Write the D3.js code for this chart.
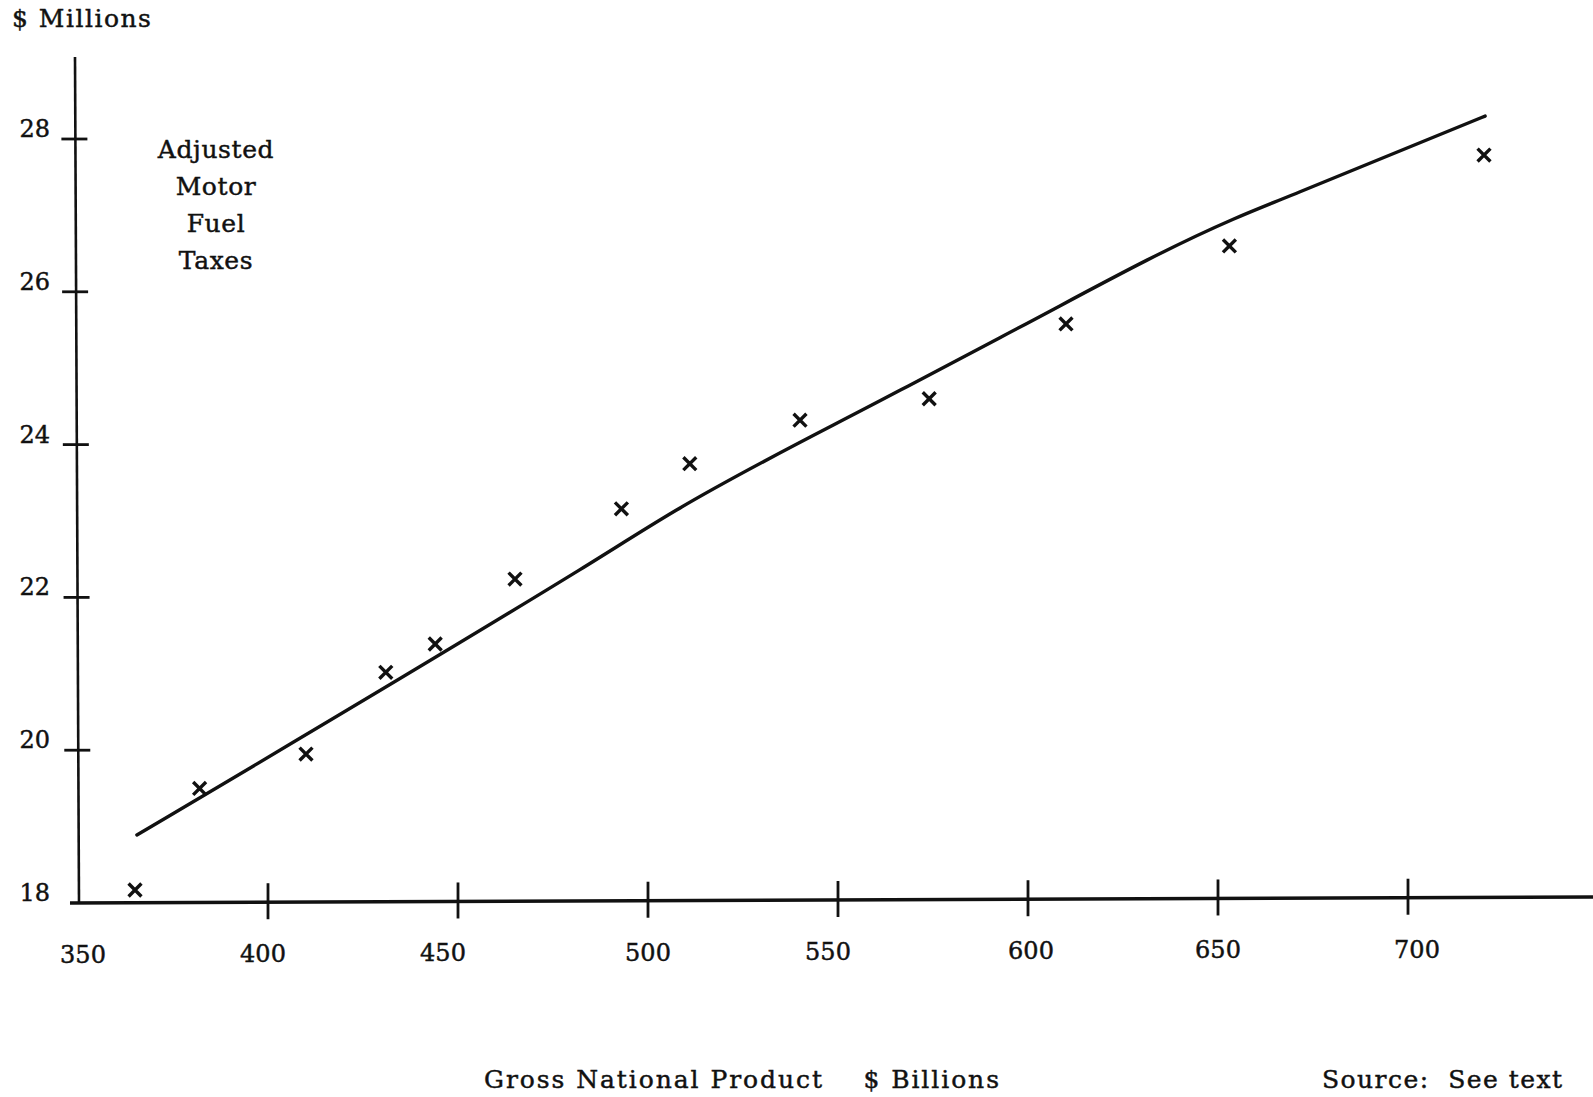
<!DOCTYPE html>
<html>
<head>
<meta charset="utf-8">
<script src="https://cdn.jsdelivr.net/npm/d3@7"></script>
<style>
  html, body { margin: 0; padding: 0; background: #fff; }
  svg { display: block; }
  text { font-family: "DejaVu Serif", "Liberation Serif", serif; fill: #111; stroke: #111; stroke-width: 0.45px; }
</style>
</head>
<body>
<svg id="chart" width="1593" height="1097"></svg>
<script>
// ---- data ----
const gnp = [365, 382, 410, 431, 444, 465, 493, 511, 540, 574, 610, 653, 720];
const fuelTax = [18.17, 19.5, 19.95, 21.02, 21.39, 22.24, 23.16, 23.75, 24.32, 24.6, 25.58, 26.6, 27.79];
const trendGnp = [365.5, 482, 507.4, 566.3, 592.6, 654, 671.6, 720.3];
const trendTax = [18.89, 22.36, 23.14, 24.71, 25.40, 26.95, 27.31, 28.30];
const xTicks = [350, 400, 450, 500, 550, 600, 650, 700];
const yTicks = [18, 20, 22, 24, 26, 28];
const yTitle = "$ Millions";
const seriesLabel = ["Adjusted", "Motor", "Fuel", "Taxes"];
const xTitle = "Gross National Product    $ Billions";
const sourceNote = "Source:  See text";

// ---- layout ----
const svg = d3.select("#chart");
const x = d3.scaleLinear().domain([350, 700]).range([78, 1408]);
const y = d3.scaleLinear().domain([18, 28]).range([903, 139]);
const ink = "#111";

// axes lines (slight scan tilt)
svg.append("line").attr("x1", x(350) - 3).attr("x2", x(350) + 1)
  .attr("y1", 57).attr("y2", y(18) + 1)
  .attr("stroke", ink).attr("stroke-width", 2.6);
svg.append("line").attr("x1", 70).attr("x2", 1593)
  .attr("y1", y(18)).attr("y2", y(18) - 6)
  .attr("stroke", ink).attr("stroke-width", 3.4);

// y ticks (crossing the axis)
const yAxisX = v => x(350) + 1 - 4 * (y(18) - y(v)) / (y(18) - 57);
svg.append("g").selectAll("line").data(yTicks.filter(v => v !== 18)).join("line")
  .attr("x1", d => yAxisX(d) - 14).attr("x2", d => yAxisX(d) + 12)
  .attr("y1", d => y(d)).attr("y2", d => y(d))
  .attr("stroke", ink).attr("stroke-width", 2.8);

// x ticks (crossing the axis)
const axisTilt = d => -6 * (x(d) - 70) / (1593 - 70);
svg.append("g").selectAll("line").data(xTicks.filter(v => v !== 350)).join("line")
  .attr("x1", d => x(d)).attr("x2", d => x(d))
  .attr("y1", d => y(18) + axisTilt(d) - 19).attr("y2", d => y(18) + axisTilt(d) + 17)
  .attr("stroke", ink).attr("stroke-width", 2.8);

// y tick labels
svg.append("g").selectAll("text").data(yTicks).join("text")
  .attr("x", 50).attr("y", d => y(d) - 2)
  .attr("text-anchor", "end")
  .attr("font-size", 24)
  .text(d => d);

// x tick labels
const xLabelDx = [5, -5, -15, 0, -10, 3, 0, 9];
svg.append("g").selectAll("text").data(xTicks).join("text")
  .attr("x", (d, i) => x(d) + xLabelDx[i])
  .attr("y", d => 963 + axisTilt(d))
  .attr("text-anchor", "middle")
  .attr("font-size", 24)
  .text(d => d);

// titles
svg.append("text").attr("x", 12).attr("y", 27)
  .attr("font-size", 25).attr("letter-spacing", 1.5)
  .text(yTitle);

svg.append("g").selectAll("text").data(seriesLabel).join("text")
  .attr("x", 216).attr("y", (d, i) => 158 + i * 37)
  .attr("text-anchor", "middle")
  .attr("font-size", 25).attr("letter-spacing", 0.6)
  .text(d => d);

svg.append("text").attr("x", 484).attr("y", 1088)
  .attr("font-size", 25)
  .style("white-space", "pre")
  .attr("textLength", 515)
  .text(xTitle);

svg.append("text").attr("x", 1322).attr("y", 1088)
  .attr("font-size", 25)
  .style("white-space", "pre")
  .attr("textLength", 240)
  .text(sourceNote);

// trend line
const trend = trendGnp.map((g, i) => [g, trendTax[i]]);
svg.append("path")
  .datum(trend)
  .attr("fill", "none").attr("stroke", ink).attr("stroke-width", 3.4)
  .attr("stroke-linejoin", "round").attr("stroke-linecap", "round")
  .attr("d", d3.line().x(d => x(d[0])).y(d => y(d[1])).curve(d3.curveMonotoneX));

// data markers
const pts = gnp.map((g, i) => [g, fuelTax[i]]);
svg.append("g").selectAll("path").data(pts).join("path")
  .attr("transform", d => `translate(${x(d[0])},${y(d[1])})`)
  .attr("d", d3.symbol().type(d3.symbolX).size(110))
  .attr("fill", "none").attr("stroke", ink).attr("stroke-width", 3.4);
</script>
</body>
</html>
